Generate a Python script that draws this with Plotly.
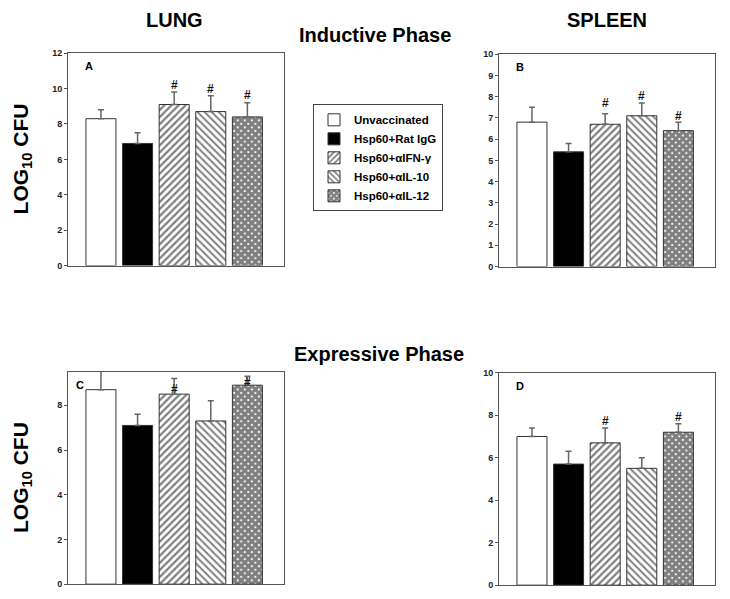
import plotly.graph_objects as go

groups = ["Unvaccinated", "Hsp60+Rat IgG", "Hsp60+\u03b1IFN-\u03b3", "Hsp60+\u03b1IL-10", "Hsp60+\u03b1IL-12"]

lung_ind = [8.3, 6.9, 9.1, 8.7, 8.4]
lung_ind_err = [0.5, 0.6, 0.7, 0.9, 0.8]
lung_ind_hash = [None, None, 10.2, 10.0, 9.65]

spleen_ind = [6.8, 5.4, 6.7, 7.1, 6.4]
spleen_ind_err = [0.7, 0.4, 0.5, 0.6, 0.4]
spleen_ind_hash = [None, None, 7.7, 8.05, 7.1]

lung_exp = [8.7, 7.1, 8.5, 7.3, 8.9]
lung_exp_err = [1.0, 0.5, 0.7, 0.9, 0.4]
lung_exp_hash = [None, None, 8.75, None, 9.05]

spleen_exp = [7.0, 5.7, 6.7, 5.5, 7.2]
spleen_exp_err = [0.4, 0.6, 0.7, 0.5, 0.4]
spleen_exp_hash = [None, None, 7.75, None, 7.9]

panels = [
    ("A", lung_ind, lung_ind_err, lung_ind_hash, [0, 12], 2),
    ("B", spleen_ind, spleen_ind_err, spleen_ind_hash, [0, 10], 1),
    ("C", lung_exp, lung_exp_err, lung_exp_hash, [0, 9.5], 2),
    ("D", spleen_exp, spleen_exp_err, spleen_exp_hash, [0, 10], 2),
]

W, H = 730, 599
FONT = "Liberation Sans, Arial, sans-serif"

# pixel boxes (left, top, right, bottom)
boxes = [(68, 49, 284, 265), (499, 50, 715, 266), (68, 373, 284, 589), (499, 374, 715, 590)]

fills = ["white", "black", "white", "white", "white"]
patterns = [
    dict(shape=""),
    dict(shape=""),
    dict(shape="/", fgcolor="black", bgcolor="white", size=5, solidity=0.45),
    dict(shape="\\", fgcolor="black", bgcolor="white", size=5, solidity=0.4),
    dict(shape="x", fgcolor="black", bgcolor="white", size=5, solidity=0.85),
]

fig = go.Figure()
layout = dict(
    width=W, height=H,
    margin=dict(l=0, r=0, t=0, b=0),
    paper_bgcolor="white", plot_bgcolor="white",
    barmode="overlay",
    font=dict(family=FONT, color="black"),
    showlegend=True,
)
annotations = []

for p, (letter, vals, errs, hashes, yr, dt) in enumerate(panels):
    l, t, r, b = boxes[p]
    ax = "" if p == 0 else str(p + 1)
    xa, ya = "x" + ax, "y" + ax
    for i, g in enumerate(groups):
        fig.add_trace(go.Bar(
            x=[i], y=[vals[i]], width=0.82, name=g,
            legendgroup=g, showlegend=(p == 0),
            marker=dict(color=fills[i], line=dict(color="#333", width=1), pattern=patterns[i]),
            error_y=dict(type="data", array=[errs[i]], arrayminus=[0], symmetric=False,
                         color="#666", thickness=1.5, width=3),
            xaxis=xa, yaxis=ya,
        ))
        if hashes[i] is not None:
            annotations.append(dict(x=i, y=hashes[i], xref=xa, yref=ya, text="#",
                                    showarrow=False, font=dict(size=12, weight="bold", color="#111")))
    layout["xaxis" + ax] = dict(
        domain=[l / W, r / W], range=[-0.9, 5.0], anchor=ya,
        showticklabels=False, ticks="", showgrid=False, zeroline=False,
        showline=True, linecolor="#555", linewidth=1, mirror=True,
    )
    layout["yaxis" + ax] = dict(
        domain=[1 - b / H, 1 - t / H], range=yr, dtick=dt, anchor=xa,
        ticks="outside", ticklen=3, tickcolor="#555",
        tickfont=dict(size=9, weight="bold", color="#222", family=FONT),
        showgrid=False, zeroline=False,
        showline=True, linecolor="#555", linewidth=1, mirror=True,
    )
    lx = 15 if letter in "ABD" else 6
    annotations.append(dict(x=(l + lx) / W, y=1 - (t + 13) / H, xref="paper", yref="paper",
                            text=letter, showarrow=False, xanchor="left", yanchor="middle",
                            font=dict(size=11, weight="bold")))

# titles
for txt, x, y in [("LUNG", 174, 15), ("SPLEEN", 607, 15), ("Inductive Phase", 375, 31), ("Expressive Phase", 379, 355)]:
    annotations.append(dict(x=x / W, y=1 - y / H, xref="paper", yref="paper", text=txt,
                            showarrow=False, xanchor="center", yanchor="middle",
                            font=dict(size=20, weight="bold")))

for yc in [157, 481]:
    annotations.append(dict(x=22 / W, y=1 - yc / H, xref="paper", yref="paper",
                            text="LOG<sub>10</sub> CFU", textangle=-90, showarrow=False,
                            xanchor="center", yanchor="middle",
                            font=dict(size=21, weight="bold")))

layout["annotations"] = annotations
layout["legend"] = dict(
    x=313 / W, y=1 - 101 / H, xanchor="left", yanchor="top",
    bordercolor="#444", borderwidth=1, bgcolor="white",
    font=dict(size=11.5, weight="bold", family=FONT),
    itemwidth=30, tracegroupgap=0,
)
fig.update_layout(**layout)
fig.write_html("out.html", config={"displayModeBar": False},
               post_script="document.body.style.margin='0px';document.body.style.padding='0px';")
